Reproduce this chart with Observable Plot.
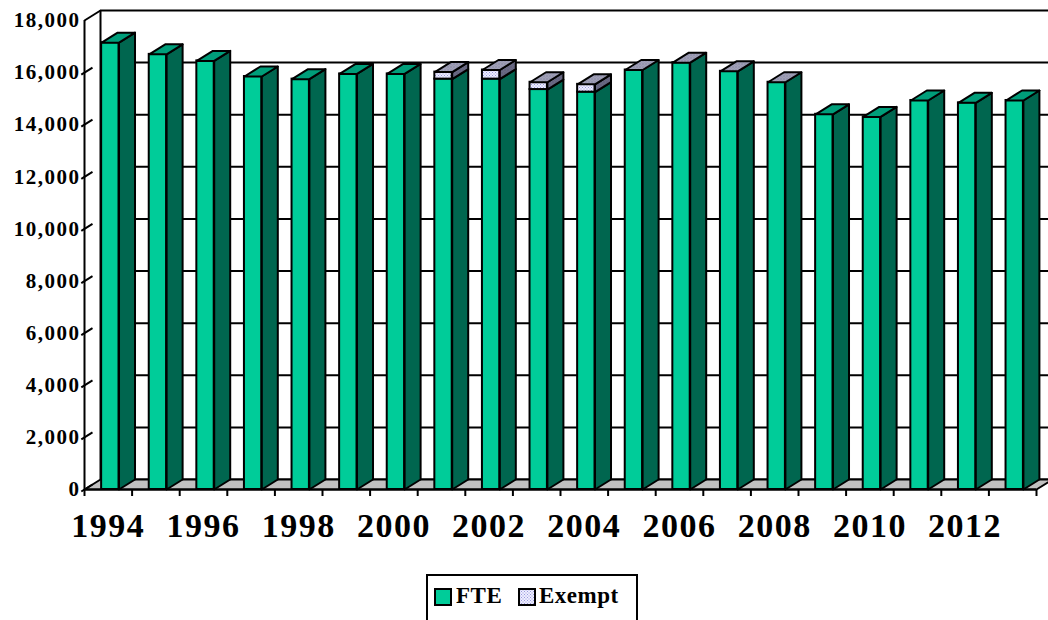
<!DOCTYPE html>
<html>
<head>
<meta charset="utf-8">
<script src="https://cdn.jsdelivr.net/npm/d3@7"></script>
<script src="https://cdn.jsdelivr.net/npm/@observablehq/plot@0.6"></script>
<style>
  html, body { margin: 0; padding: 0; background: #fff; }
  #wrap { position: relative; width: 1048px; height: 620px; overflow: hidden; }
  #legend { position: absolute; left: 426px; top: 574px; width: 212px; height: 52px;
    border: 2px solid #000; box-sizing: border-box; background: #fff;
    font-family: "Liberation Serif", "Times New Roman", serif; font-weight: bold; font-size: 23px; }
  #legend .sw { position: absolute; top: 12px; width: 18px; height: 18px; }
  #legend .lb { position: absolute; top: 7px; line-height: 26px; letter-spacing: 0.5px; }
</style>
</head>
<body>
<div id="wrap"></div>
<script>
// ---- data ----
const years  = [1994, 1995, 1996, 1997, 1998, 1999, 2000, 2001, 2002, 2003,
                2004, 2005, 2006, 2007, 2008, 2009, 2010, 2011, 2012, 2013];
const fte    = [17150, 16700, 16450, 15850, 15750, 15950, 15950, 15750, 15750, 15350,
                15250, 16100, 16380, 16050, 15630, 14400, 14300, 14930, 14840, 14930];
const exempt = [null, null, null, null, null, null, null, 270, 350, 280,
                300, 0, 0, 0, 0, null, null, null, null, null];
const yTicks = [0, 2000, 4000, 6000, 8000, 10000, 12000, 14000, 16000, 18000];
const xLabels = [1994, 1996, 1998, 2000, 2002, 2004, 2006, 2008, 2010, 2012];
const seriesNames = ["FTE", "Exempt"];

// ---- layout / style ----
const W = 1048, H = 560;
const mL = 84, mR = 12, mT = 20, mB = 71;
const x0 = years[0], x1 = years[years.length - 1] + 1;
const yMax = 18000;
const bandPx = (W - mL - mR) / (x1 - x0);
const plotHpx = H - mT - mB;
const DX = 16 / bandPx;              // depth offset in x units
const DY = 10 * yMax / plotHpx;      // depth offset in y units
const F1 = 0.36, F2 = 0.725;         // bar front face within band
const FONT = '"Liberation Serif", "Times New Roman", serif';
const cFront = "#00cc99", cSide = "#00664f", cTop = "#009e7a";

const rows = years.map((yr, i) => ({year: yr, fte: fte[i], ex: exempt[i],
  tot: fte[i] + (exempt[i] || 0)}));

const quad = (id, pts) => pts.map(([x, y]) => ({id, x, y}));
const sideF = [], sideE = [], topG = [], topE = [];
rows.forEach(r => {
  const a = r.year + F1, b = r.year + F2;
  sideF.push(...quad(r.year, [[b, 0], [b, r.fte], [b + DX, r.fte + DY], [b + DX, DY]]));
  if (r.ex > 0) sideE.push(...quad(r.year, [[b, r.fte], [b, r.tot], [b + DX, r.tot + DY], [b + DX, r.fte + DY]]));
  const tq = quad(r.year, [[a, r.tot], [b, r.tot], [b + DX, r.tot + DY], [a + DX, r.tot + DY]]);
  if (r.ex == null) topG.push(...tq); else topE.push(...tq);
});
const floorPoly = quad("floor", [[x0, 0], [x1, 0], [x1 + DX, DY], [x0 + DX, DY]]);
const bounds = d3.range(x0, x1 + 1);

const lineOpts = {x: "x", y: "y", z: "id", curve: "linear-closed", stroke: "black", strokeWidth: 2};

const chart = Plot.plot({
  width: W, height: H,
  marginLeft: mL, marginRight: mR, marginTop: mT, marginBottom: mB,
  x: {domain: [x0, x1], axis: null},
  y: {domain: [0, yMax], axis: null},
  marks: [
    // back wall gridlines
    Plot.ruleY(yTicks, {y: d => d + DY, x1: x0 + DX, x2: x1 + DX, stroke: "black", strokeWidth: 2}),
    Plot.ruleX([x0 + DX], {y1: DY, y2: yMax + DY, stroke: "black", strokeWidth: 2}),
    // floor
    Plot.line(floorPoly, {...lineOpts, fill: "#c0c0c0"}),
    // front axis and side ticks
    Plot.ruleX([x0], {y1: 0, y2: yMax, stroke: "black", strokeWidth: 2}),
    Plot.link([yMax], {x1: x0, y1: d => d, x2: x0 + DX, y2: d => d + DY, stroke: "black", strokeWidth: 2}),
    Plot.link(yTicks.slice(0, -1), {x1: x0 - 0.2 * DX, y1: d => d - 0.2 * DY, x2: x0 + 0.5 * DX, y2: d => d + 0.5 * DY, stroke: "black", strokeWidth: 2}),
    Plot.ruleY([0], {x1: x0, x2: x1, stroke: "black", strokeWidth: 2}),
    Plot.ruleX(bounds, {y1: 0, y2: 0, insetBottom: -7, stroke: "black", strokeWidth: 2}),
    // bars
    Plot.rect(rows, {x1: d => d.year + F1, x2: d => d.year + F2, y1: 0, y2: "fte", fill: cFront, stroke: "black", strokeWidth: 2}),
    Plot.rect(rows.filter(d => d.ex > 0), {x1: d => d.year + F1, x2: d => d.year + F2, y1: "fte", y2: "tot", fill: "url(#exFront)", stroke: "black", strokeWidth: 2}),
    Plot.line(sideF, {...lineOpts, fill: cSide}),
    Plot.line(sideE, {...lineOpts, fill: "url(#exSide)"}),
    Plot.line(topG, {...lineOpts, fill: cTop}),
    Plot.line(topE, {...lineOpts, fill: "url(#exTop)"}),
    // labels
    Plot.text(yTicks, {x: x0, y: d => d, text: d => d3.format(",")(d), textAnchor: "end", dx: -4,
      fontSize: 21, fontWeight: "bold", fontFamily: FONT, fill: "black"}),
    Plot.text(xLabels, {x: d => d + 0.5, y: 0, dy: 37, text: d => String(d),
      fontSize: 34, fontWeight: "bold", fontFamily: FONT, fill: "black"})
  ]
});

// pattern definitions
const defs = d3.select(chart).insert("defs", ":first-child");
function dots(id, bg, dot) {
  const p = defs.append("pattern").attr("id", id).attr("patternUnits", "userSpaceOnUse")
    .attr("width", 3).attr("height", 3);
  p.append("rect").attr("width", 3).attr("height", 3).attr("fill", bg);
  p.append("rect").attr("width", 1).attr("height", 1).attr("fill", dot);
  p.append("rect").attr("x", 1.5).attr("y", 1.5).attr("width", 1).attr("height", 1).attr("fill", dot);
}
dots("exFront", "#eeeeff", "#9999dd");
dots("exTop", "#a8a8bc", "#6a6a8e");
dots("exSide", "#6e6e88", "#4a4a66");

// text spacing for wide glyph look
d3.select(chart).selectAll("text").style("letter-spacing", "1.5px");

const wrap = document.getElementById("wrap");
wrap.appendChild(chart);

// legend
const legend = document.createElement("div");
legend.id = "legend";
const swFills = [cFront, "url(#exFront)"];
const swLeft = [6, 90], lbLeft = [28, 111];
seriesNames.forEach((name, i) => {
  const sw = document.createElementNS("http://www.w3.org/2000/svg", "svg");
  sw.setAttribute("class", "sw");
  sw.style.left = swLeft[i] + "px";
  sw.innerHTML = `<rect x="1" y="1" width="16" height="16" fill="${swFills[i]}" stroke="black" stroke-width="2"/>`;
  legend.appendChild(sw);
  const lb = document.createElement("span");
  lb.className = "lb";
  lb.style.left = lbLeft[i] + "px";
  lb.textContent = name;
  legend.appendChild(lb);
});
wrap.appendChild(legend);
</script>
</body>
</html>
